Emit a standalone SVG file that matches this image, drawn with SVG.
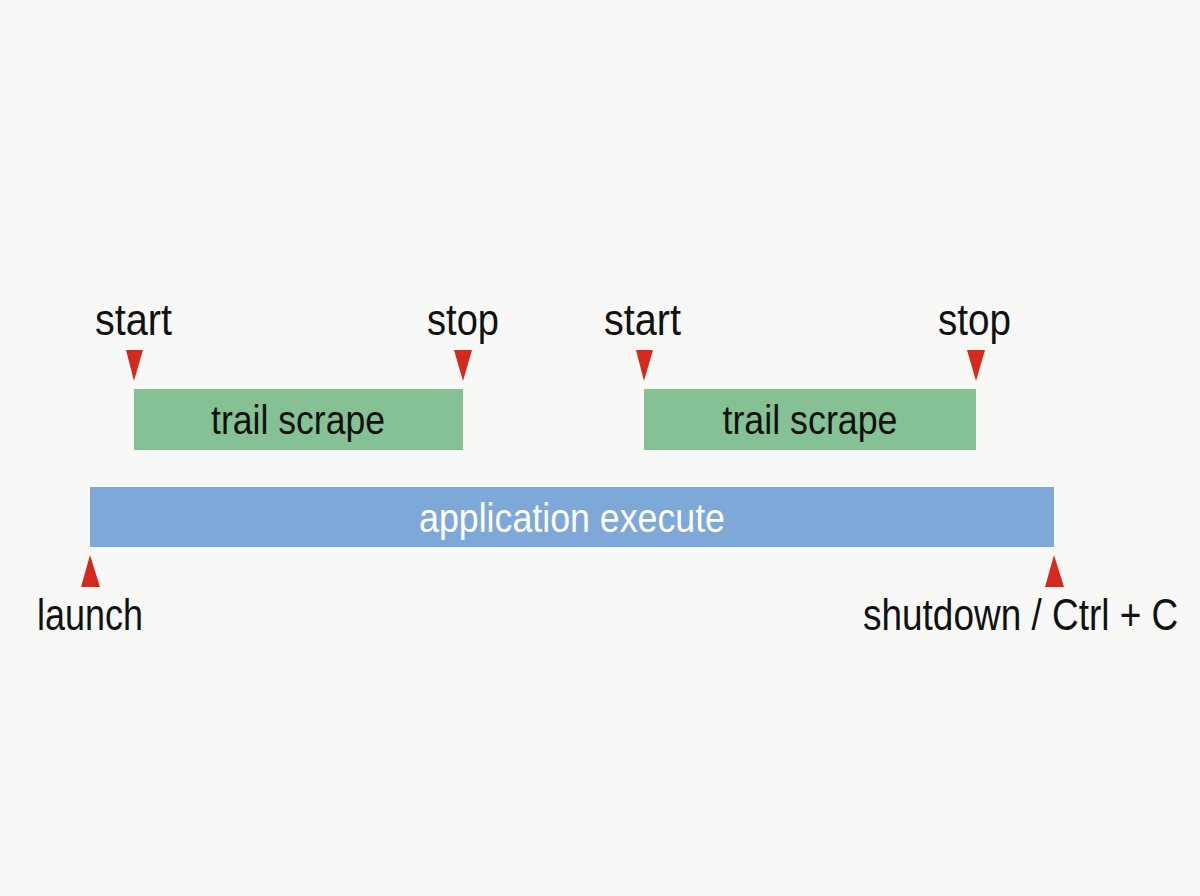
<svg xmlns="http://www.w3.org/2000/svg" width="1200" height="896" viewBox="0 0 1200 896">
<style>
.t{font-family:"Liberation Sans Narrow","Liberation Sans",Arial,sans-serif;fill:#111;}
.lbl{font-size:44px;}
.box{font-size:40px;text-anchor:middle;}
.tri{fill:#d42a1e;}
</style>
<rect width="1200" height="896" fill="#f8f8f7"/>
<g id="app">
<rect x="90" y="487" width="964" height="60" fill="#7ea8d8"/>
<text class="t box" x="572" y="532" style="fill:#fff" textLength="306" lengthAdjust="spacingAndGlyphs">application execute</text>
</g>
<g id="scrape1">
<rect x="134" y="389" width="329" height="61" fill="#86c195"/>
<text class="t box" x="298" y="434" textLength="174" lengthAdjust="spacingAndGlyphs">trail scrape</text>
</g>
<g id="scrape2">
<rect x="644" y="389" width="332" height="61" fill="#86c195"/>
<text class="t box" x="810" y="434" textLength="175" lengthAdjust="spacingAndGlyphs">trail scrape</text>
</g>
<g id="connectors">
<polygon class="tri" points="126,350 143,350 134,381"/>
<polygon class="tri" points="454,350 472,350 463,381"/>
<polygon class="tri" points="636,350 653,350 644,381"/>
<polygon class="tri" points="967,350 985,350 976,381"/>
<polygon class="tri" points="81,587 100,587 90,555"/>
<polygon class="tri" points="1045,587 1064,587 1054,555"/>
</g>
<g id="start1"><text class="t lbl" x="95" y="335" textLength="77" lengthAdjust="spacingAndGlyphs">start</text></g>
<g id="stop1"><text class="t lbl" x="427" y="335" textLength="72" lengthAdjust="spacingAndGlyphs">stop</text></g>
<g id="start2"><text class="t lbl" x="604" y="335" textLength="77" lengthAdjust="spacingAndGlyphs">start</text></g>
<g id="stop2"><text class="t lbl" x="938" y="335" textLength="73" lengthAdjust="spacingAndGlyphs">stop</text></g>
<g id="launch"><text class="t lbl" x="37" y="630" textLength="106" lengthAdjust="spacingAndGlyphs">launch</text></g>
<g id="shutdown"><text class="t lbl" transform="translate(863,630) scale(0.84,1)" x="0" y="0">shutdown / Ctrl + C</text></g>
</svg>
